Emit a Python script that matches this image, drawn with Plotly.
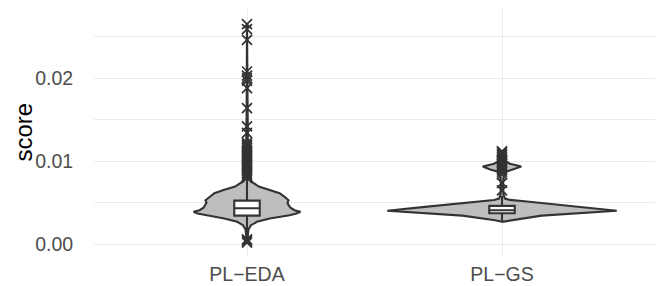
import plotly.graph_objects as go

# ---- data ----
categories = ["PL\u2212EDA", "PL\u2212GS"]
cat_pos = [1, 2]

# violin profiles: score values and relative density (max = 1)
eda_violin_y = [0.0002, 0.0010, 0.0018, 0.0023, 0.0027, 0.0031, 0.0035, 0.0037, 0.0039,
                0.0041, 0.0044, 0.0047, 0.0050, 0.0053, 0.0057, 0.00615, 0.00655, 0.00695,
                0.0075, 0.0082, 0.0095, 0.0120, 0.0160, 0.0265]
eda_violin_d = [0.0, 0.005, 0.013, 0.035, 0.086, 0.198, 0.371, 0.431, 0.466,
                0.414, 0.379, 0.362, 0.353, 0.362, 0.328, 0.284, 0.198, 0.103,
                0.043, 0.017, 0.009, 0.005, 0.003, 0.0]

gs_violin_y = [0.0027, 0.0029, 0.00345, 0.00403, 0.0045, 0.00495, 0.00515, 0.00534, 0.0055,
               0.0060, 0.0070, 0.0080, 0.0085, 0.00876, 0.0090, 0.00936, 0.0097, 0.00997,
               0.0105, 0.0110, 0.0113]
gs_violin_d = [0.0, 0.060, 0.345, 1.0, 0.672, 0.353, 0.216, 0.069, 0.026,
               0.013, 0.009, 0.013, 0.026, 0.043, 0.103, 0.168, 0.069, 0.034,
               0.017, 0.009, 0.0]

# box statistics
box_q1 = [0.00345, 0.00374]
box_median = [0.00434, 0.00410]
box_q3 = [0.00526, 0.00462]
box_lower = [0.0008, 0.0027]
box_upper = [0.0079, 0.0058]

# outliers
eda_outliers = [0.0265, 0.0259, 0.0246, 0.0208, 0.0203, 0.0200, 0.0197, 0.0188, 0.0164,
                0.0142, 0.0134, 0.0122, 0.0120, 0.0118, 0.0116, 0.0114, 0.0112, 0.0110,
                0.0108, 0.0106, 0.0104, 0.0102, 0.0100, 0.0098, 0.0096, 0.0094, 0.0092,
                0.0090, 0.0088, 0.0086, 0.0084, 0.0082, 0.0080, 0.0006, 0.0004, 0.0002]
gs_outliers = [0.0112, 0.0111, 0.0109, 0.0107, 0.0105, 0.0103, 0.0101, 0.0099, 0.0097,
               0.0095, 0.0093, 0.0091, 0.0089, 0.0087, 0.0084, 0.0074, 0.0065]

y_ticks = [0.0, 0.01, 0.02]
y_ticktext = ["0.00", "0.01", "0.02"]
y_minor = [0.005, 0.015, 0.025]

# ---- styling ----
DARK = "#333333"
FILL = "#BEBEBE"
GRID = "#EBEBEB"
MAX_HALF = 0.45
FONT = "Liberation Sans, Arial, sans-serif"
X_RANGE = [0.4, 2.6]
Y_RANGE = [-0.00141, 0.02832]

fig = go.Figure()

# violins (base axes)
for pos, vy, vd in [(cat_pos[0], eda_violin_y, eda_violin_d), (cat_pos[1], gs_violin_y, gs_violin_d)]:
    xs = [pos - MAX_HALF * d for d in vd] + [pos + MAX_HALF * d for d in reversed(vd)]
    ys = list(vy) + list(reversed(vy))
    fig.add_trace(go.Scatter(x=xs, y=ys, mode="lines", fill="toself", fillcolor=FILL,
                             line=dict(color=DARK, width=2.1), hoverinfo="skip", showlegend=False))

# boxes on an overlaid axis pair so they sit above the violins
for i, pos in enumerate(cat_pos):
    fig.add_trace(go.Box(x=[pos], q1=[box_q1[i]], median=[box_median[i]], q3=[box_q3[i]],
                         lowerfence=[box_lower[i]], upperfence=[box_upper[i]],
                         orientation="v", width=0.1, whiskerwidth=0, fillcolor="white",
                         line=dict(color=DARK, width=2.1), boxpoints=False, showlegend=False,
                         xaxis="x2", yaxis="y2"))

for pos, outs in [(cat_pos[0], eda_outliers), (cat_pos[1], gs_outliers)]:
    fig.add_trace(go.Scatter(x=[pos] * len(outs), y=outs, mode="markers",
                             marker=dict(symbol="x-thin-open", size=10,
                                         line=dict(color=DARK, width=1.7), color=DARK),
                             showlegend=False, xaxis="x2", yaxis="y2"))

fig.update_layout(
    width=656, height=286,
    margin=dict(l=94, r=1, t=9, b=30, autoexpand=False),
    paper_bgcolor="white", plot_bgcolor="white",
    font=dict(family=FONT),
    boxmode="overlay",
    xaxis=dict(range=X_RANGE, tickmode="array", tickvals=cat_pos, ticktext=categories,
               showgrid=True, gridcolor=GRID, gridwidth=1.1, zeroline=False, showline=False,
               ticks="outside", ticklen=1, tickcolor="rgba(0,0,0,0)", automargin=False,
               tickfont=dict(size=19.5, color="#4D4D4D", family=FONT)),
    yaxis=dict(range=Y_RANGE, tickmode="array", tickvals=y_ticks, ticktext=y_ticktext,
               showgrid=True, gridcolor=GRID, gridwidth=1.1, zeroline=False, showline=False,
               ticks="outside", ticklen=16, tickcolor="rgba(0,0,0,0)", automargin=False,
               tickfont=dict(size=19.5, color="#4D4D4D", family=FONT),
               minor=dict(tickvals=y_minor, showgrid=True, gridcolor=GRID, gridwidth=0.6)),
    xaxis2=dict(range=X_RANGE, overlaying="x", visible=False, showgrid=False, zeroline=False),
    yaxis2=dict(range=Y_RANGE, overlaying="y", visible=False, showgrid=False, zeroline=False),
    annotations=[dict(text="score", xref="paper", yref="paper", x=0, y=0.5,
                      xanchor="center", yanchor="middle", xshift=-71, textangle=-90,
                      showarrow=False, font=dict(size=24, color="black", family=FONT))],
)

fig.write_html("out.html", config={"displayModeBar": False},
               post_script="document.body.style.margin='0';document.body.style.padding='0';")
